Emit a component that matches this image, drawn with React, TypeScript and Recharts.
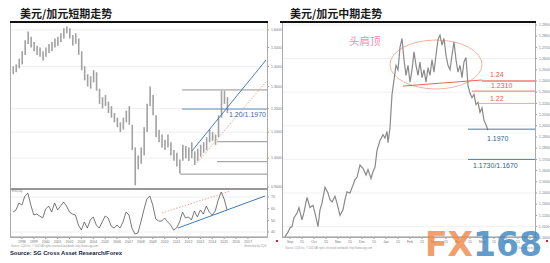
import React from "react";
import {
  ComposedChart,
  Bar,
  Line,
  XAxis,
  YAxis,
  CartesianGrid,
  ReferenceLine,
  ReferenceArea,
} from "recharts";

// ---- left panel: quarterly USD/CAD, 1997-2015 (log scale) ----
const leftStart = 1997.25;
const leftLow = [
  1.36, 1.37, 1.39, 1.41, 1.46, 1.52, 1.5, 1.48, 1.46, 1.45,
  1.43, 1.45, 1.47, 1.48, 1.5, 1.51, 1.53, 1.55, 1.58, 1.55,
  1.51, 1.52, 1.46, 1.38, 1.33, 1.3, 1.29, 1.32, 1.28, 1.22,
  1.2, 1.21, 1.18, 1.16, 1.14, 1.12, 1.1, 1.11, 1.14, 1.13,
  1.03, 0.905, 0.96, 0.98, 1.01, 1.1, 1.21, 1.17, 1.08, 1.06,
  1.04, 1.03, 1.04, 1.01, 0.99, 0.97, 0.945, 0.99, 1.0, 0.99,
  1.0, 0.975, 0.99, 1.005, 1.02, 1.03, 1.06, 1.065, 1.05, 1.08,
  1.16, 1.22, 1.18,
];
const leftHigh = [
  1.4, 1.41, 1.44, 1.48, 1.54, 1.59, 1.56, 1.53, 1.51, 1.5,
  1.48, 1.5, 1.52, 1.53, 1.55, 1.56, 1.58, 1.61, 1.62, 1.61,
  1.57, 1.58, 1.55, 1.48, 1.4, 1.36, 1.35, 1.38, 1.37, 1.29,
  1.25, 1.26, 1.23, 1.21, 1.18, 1.16, 1.14, 1.16, 1.19, 1.21,
  1.13, 1.04, 1.01, 1.04, 1.12, 1.22, 1.3, 1.26, 1.17, 1.11,
  1.09, 1.07, 1.09, 1.06, 1.03, 1.02, 0.995, 1.05, 1.045, 1.04,
  1.06, 1.025, 1.035, 1.05, 1.06, 1.08, 1.11, 1.1, 1.09, 1.17,
  1.28, 1.28, 1.25,
];
const leftOsc = [
  57.1, 58.9, 64.9, 63.1, 70.9, 73.4, 63.1, 54.6, 55.4, 53.7,
  52.0, 59.7, 62.3, 57.1, 64.9, 58.9, 62.3, 65.7, 62.3, 57.1,
  55.4, 54.6, 46.0, 41.7, 48.6, 43.4, 50.3, 52.9, 46.0, 43.4,
  48.6, 53.7, 52.0, 45.1, 43.4, 46.0, 43.4, 48.6, 57.1, 54.6,
  43.4, 38.3, 39.1, 48.6, 58.9, 68.3, 70.9, 63.1, 51.1, 49.4,
  49.4, 52.0, 48.6, 46.0, 41.7, 43.4, 48.6, 57.1, 52.0, 52.9,
  50.3, 58.0, 52.9, 58.9, 55.4, 62.3, 57.1, 54.6, 58.0, 67.4,
  74.3, 68.3, 58.9,
];
const leftPriceTicks = [0.9, 1.0, 1.1, 1.2, 1.3, 1.4, 1.5, 1.6];
const leftOscTicks = [40, 50, 60, 70];
const leftYearTicks = [
  1998, 1999, 2000, 2001, 2002, 2003, 2004, 2005, 2006, 2007,
  2008, 2009, 2010, 2011, 2012, 2013, 2014, 2015, 2016, 2017,
];
// support / resistance levels drawn on the short-term chart
const leftLevels = { high: 1.284, support: 1.197, mid: 1.062, low: 0.987, floor: 0.943 };

// ---- right panel: daily USD/CAD, head & shoulders ----
const rightDays = [
  3, 6, 8, 10, 12, 15, 17, 20, 22, 25, 28, 31, 33, 36, 38, 40, 43, 46, 48, 50,
  53, 55, 58, 61, 63, 65, 68, 71, 73, 75, 78, 81, 84, 86, 89, 91, 93, 95, 98, 101,
  103, 105, 106, 108, 110, 112, 114, 116, 118, 120, 122, 124, 126, 128, 130, 132,
  134, 136, 138, 140, 142, 144, 146, 148, 150, 152, 154, 156, 158, 160, 162, 164,
  166, 168, 170, 172, 174, 176, 178, 180, 182, 184, 186, 188, 190, 192, 194, 196,
  198, 200, 202, 204, 206,
];
const rightPrice = [
  1.101, 1.105, 1.109, 1.11, 1.118, 1.122, 1.127, 1.116, 1.123, 1.136,
  1.127, 1.129, 1.122, 1.11, 1.125, 1.131, 1.145, 1.14, 1.134, 1.132,
  1.137, 1.131, 1.12, 1.125, 1.134, 1.141, 1.14, 1.147, 1.152, 1.154,
  1.165, 1.162, 1.156, 1.161, 1.153, 1.159, 1.163, 1.178, 1.187, 1.192,
  1.189, 1.195, 1.185, 1.198, 1.228, 1.241, 1.254, 1.25, 1.27, 1.278,
  1.259, 1.245, 1.254, 1.239, 1.25, 1.266, 1.254, 1.245, 1.257, 1.243,
  1.25, 1.239, 1.252, 1.245, 1.259, 1.248, 1.263, 1.277, 1.281, 1.272,
  1.278, 1.263, 1.254, 1.25, 1.263, 1.275, 1.259, 1.248, 1.254, 1.243,
  1.257, 1.261, 1.236, 1.229, 1.225, 1.228, 1.219, 1.221, 1.212, 1.216,
  1.205, 1.201, 1.196,
];
const rightPriceTicks = [
  1.1, 1.11, 1.12, 1.13, 1.14, 1.15, 1.16, 1.17, 1.18, 1.19,
  1.2, 1.21, 1.22, 1.23, 1.24, 1.25, 1.26, 1.27, 1.28, 1.29,
];
const rightDateTicks = [8, 20, 32, 44, 56, 68, 80, 92, 104, 116, 128, 140, 152, 164, 176, 188, 200, 212, 224, 236, 248];
const rightDateLabels = [
  "Sep", "15", "Oct", "15", "Nov", "15", "Dec", "15", "Jan", "15", "Feb",
  "15", "Mar", "15", "Apr", "15", "May", "15", "Jun", "15", "Jul",
];

const leftRows = leftLow.map((lo, i) => ({
  t: leftStart + i * 0.25,
  range: [lo, leftHigh[i]],
  osc: leftOsc[i],
}));
const rightRows = rightDays.map((d, i) => ({ d, p: rightPrice[i] }));

const tinyTick = { fontSize: 3.5, fill: "#777", fontFamily: "Liberation Sans" };
const abs = (left: number, top: number, extra: React.CSSProperties = {}): React.CSSProperties => ({
  position: "absolute",
  left,
  top,
  lineHeight: 1,
  whiteSpace: "nowrap",
  ...extra,
});

const Ellipse = (p: any) => (
  <ellipse
    cx={p.x + p.width / 2}
    cy={p.y + p.height / 2}
    rx={p.width / 2}
    ry={p.height / 2}
    fill="none"
    stroke="#f3b49b"
    strokeWidth={1}
  />
);

export default function App() {
  const title: React.CSSProperties = {
    fontFamily: '"Noto Sans CJK SC", sans-serif',
    fontWeight: 700,
    fontSize: 11,
    color: "#1a1a1a",
  };
  const lbl = (color: string): React.CSSProperties => ({
    fontFamily: "Liberation Sans, Arial, sans-serif",
    fontSize: 7,
    color,
  });

  return (
    <div style={{ position: "absolute", left: 0, top: 0, width: 550, height: 263, background: "#fff", overflow: "hidden" }}>
      <div style={abs(20, 8, title)}>美元/加元短期走势</div>
      <div style={abs(290, 8, title)}>美元/加元中期走势</div>

      {/* left main price chart */}
      <div style={{ position: "absolute", left: 0, top: 0 }}>
        <ComposedChart width={290} height={189} data={leftRows} margin={{ top: 22, right: 0, bottom: 0, left: 10 }}>
          <CartesianGrid vertical={false} stroke="#efefef" />
          <XAxis type="number" dataKey="t" domain={[1997, 2018.6]} hide allowDataOverflow />
          <YAxis
            orientation="right"
            scale="log"
            domain={[0.893, 1.647]}
            ticks={leftPriceTicks}
            allowDataOverflow
            width={23}
            tick={tinyTick}
            tickSize={2}
            tickLine={{ stroke: "#999" }}
            axisLine={false}
            tickFormatter={(v: number) => v.toFixed(4)}
          />
          <Bar dataKey="range" fill="#a2a2a2" barSize={1.6} isAnimationActive={false} />
          <ReferenceLine segment={[{ x: 2011.46, y: leftLevels.high }, { x: 2018.6, y: leftLevels.high }]} stroke="#777" strokeWidth={0.8} />
          <ReferenceLine segment={[{ x: 2011.46, y: leftLevels.support }, { x: 2018.6, y: leftLevels.support }]} stroke="#4a7fb5" strokeWidth={0.9} />
          <ReferenceLine segment={[{ x: 2014.4, y: leftLevels.mid }, { x: 2018.6, y: leftLevels.mid }]} stroke="#777" strokeWidth={0.8} />
          <ReferenceLine segment={[{ x: 2014.4, y: leftLevels.low }, { x: 2018.6, y: leftLevels.low }]} stroke="#777" strokeWidth={0.8} />
          <ReferenceLine segment={[{ x: 2011.3, y: leftLevels.floor }, { x: 2018.6, y: leftLevels.floor }]} stroke="#777" strokeWidth={0.8} />
          <ReferenceLine segment={[{ x: 2012.3, y: 1.027 }, { x: 2018.52, y: 1.433 }]} stroke="#4a7fb5" strokeWidth={1} />
          <ReferenceLine segment={[{ x: 2012.72, y: 0.983 }, { x: 2018.52, y: 1.323 }]} stroke="#e8a094" strokeWidth={0.9} strokeDasharray="1.5 1.5" />
        </ComposedChart>
      </div>

      {/* left oscillator */}
      <div style={{ position: "absolute", left: 0, top: 189 }}>
        <ComposedChart width={290} height={57} data={leftRows} margin={{ top: 0, right: 0, bottom: 0, left: 10 }}>
          <CartesianGrid vertical={false} stroke="#efefef" />
          <XAxis
            type="number"
            dataKey="t"
            domain={[1997, 2018.6]}
            allowDataOverflow
            ticks={leftYearTicks}
            interval={0}
            height={9}
            tick={tinyTick}
            tickSize={2}
            tickLine={{ stroke: "#999" }}
            axisLine={{ stroke: "#999" }}
          />
          <YAxis
            orientation="right"
            domain={[35.7, 76.9]}
            ticks={leftOscTicks}
            allowDataOverflow
            width={23}
            tick={tinyTick}
            tickSize={2}
            tickLine={{ stroke: "#999" }}
            axisLine={false}
          />
          <Line dataKey="osc" stroke="#555" strokeWidth={0.8} dot={false} isAnimationActive={false} />
          <ReferenceLine segment={[{ x: 2011.12, y: 43.4 }, { x: 2018.44, y: 70.9 }]} stroke="#3f79b5" strokeWidth={1} />
          <ReferenceLine segment={[{ x: 2009.77, y: 56.3 }, { x: 2015.49, y: 75.1 }]} stroke="#e8a094" strokeWidth={0.9} strokeDasharray="1.5 1.5" />
        </ComposedChart>
      </div>

      {/* right daily chart */}
      <div style={{ position: "absolute", left: 282, top: 0 }}>
        <ComposedChart width={268} height={247} data={rightRows} margin={{ top: 22, right: 0, bottom: 0, left: 0 }}>
          <CartesianGrid vertical={false} stroke="#f1f1f1" />
          <XAxis
            type="number"
            dataKey="d"
            domain={[0, 253]}
            allowDataOverflow
            ticks={rightDateTicks}
            interval={0}
            height={10}
            tick={tinyTick}
            tickSize={2}
            tickLine={{ stroke: "#999" }}
            axisLine={{ stroke: "#999" }}
            tickFormatter={(v: number) => rightDateLabels[rightDateTicks.indexOf(v)] ?? ""}
          />
          <YAxis
            orientation="right"
            domain={[1.1007, 1.2927]}
            ticks={rightPriceTicks}
            allowDataOverflow
            width={15}
            tick={tinyTick}
            tickSize={2}
            tickLine={{ stroke: "#999" }}
            axisLine={false}
            tickFormatter={(v: number) => v.toFixed(4)}
          />
          <ReferenceArea x1={108} x2={200} y1={1.2329} y2={1.2766} shape={Ellipse} />
          <Line dataKey="p" stroke="#8a8a8a" strokeWidth={1.2} dot={false} isAnimationActive={false} />
          <ReferenceLine segment={[{ x: 121, y: 1.2355 }, { x: 200, y: 1.2409 }]} stroke="#e8665a" strokeWidth={1} />
          <ReferenceLine segment={[{ x: 200, y: 1.24 }, { x: 253, y: 1.24 }]} stroke="#e53935" strokeWidth={1} />
          <ReferenceLine segment={[{ x: 190, y: 1.231 }, { x: 253, y: 1.231 }]} stroke="#ee7070" strokeWidth={1} />
          <ReferenceLine segment={[{ x: 196, y: 1.22 }, { x: 253, y: 1.22 }]} stroke="#f3a88c" strokeWidth={1} />
          <ReferenceLine segment={[{ x: 186, y: 1.197 }, { x: 253, y: 1.197 }]} stroke="#4a78aa" strokeWidth={1} />
          <ReferenceLine segment={[{ x: 186, y: 1.17 }, { x: 253, y: 1.17 }]} stroke="#4a78aa" strokeWidth={1} />
        </ComposedChart>
      </div>

      {/* frames */}
      <div style={{ position: "absolute", left: 10, top: 22, width: 258, height: 216, border: "1px solid #aaa", boxSizing: "border-box" }} />
      <div style={{ position: "absolute", left: 10, top: 188, width: 258, height: 2, background: "#999" }} />
      <div style={{ position: "absolute", left: 10, top: 21, width: 258, height: 2, background: "#111" }} />
      <div style={{ position: "absolute", left: 282, top: 22, width: 254, height: 216, border: "1px solid #aaa", boxSizing: "border-box" }} />
      <div style={{ position: "absolute", left: 280, top: 21, width: 256, height: 2, background: "#111" }} />

      {/* annotations */}
      <div style={abs(229, 111, lbl("#3b6aa0"))}>1.20/1.1970</div>
      <div style={abs(12, 190, { fontSize: 3, color: "#777", fontFamily: "Liberation Sans" })}>RSI(14)</div>
      <div style={abs(349, 36, { fontFamily: '"Noto Sans CJK SC", sans-serif', fontSize: 10.5, color: "#f28cb1" })}>头肩顶</div>
      <div style={abs(490, 71, lbl("#e8603c"))}>1.24</div>
      <div style={abs(491, 82, lbl("#e8603c"))}>1.2310</div>
      <div style={abs(490, 95, lbl("#e8603c"))}>1.22</div>
      <div style={abs(487, 135, lbl("#2e5e96"))}>1.1970</div>
      <div style={abs(473, 162, lbl("#2e5e96"))}>1.1730/1.1670</div>

      {/* footers */}
      <div style={abs(11, 246, { fontSize: 2.6, color: "#999", fontFamily: "Liberation Sans" })}>
        Source: CQG Inc. © 2015 All rights reserved worldwide. http://www.cqg.com
      </div>
      <div style={abs(244, 246, { fontSize: 2.6, color: "#999", fontFamily: "Liberation Sans" })}>Generated by CQG</div>
      <div style={abs(285, 248, { fontSize: 2.6, color: "#999", fontFamily: "Liberation Sans" })}>
        Source: CQG Inc. © 2015 All rights reserved worldwide. http://www.cqg.com
      </div>
      <div style={abs(518, 248, { fontSize: 2.6, color: "#999", fontFamily: "Liberation Sans" })}>Generated by CQG</div>
      <div style={{ position: "absolute", left: 276, top: 240, width: 2, height: 2, background: "#e02020" }} />
      <div style={{ position: "absolute", left: 546, top: 240, width: 2, height: 2, background: "#e02020" }} />
      <div style={abs(10, 251, { fontSize: 5.8, fontWeight: 700, color: "#14213d", fontFamily: "Liberation Sans, Arial, sans-serif" })}>
        Source: SG Cross Asset Research/Forex
      </div>

      {/* watermark */}
      <div style={abs(425, 228, { fontFamily: "DejaVu Sans", fontWeight: 700, fontSize: 33, lineHeight: "33px", opacity: 0.82 })}>
        <span style={{ color: "#f08a4b" }}>FX</span>
        <span style={{ color: "#3f87c0" }}>168</span>
      </div>
    </div>
  );
}
